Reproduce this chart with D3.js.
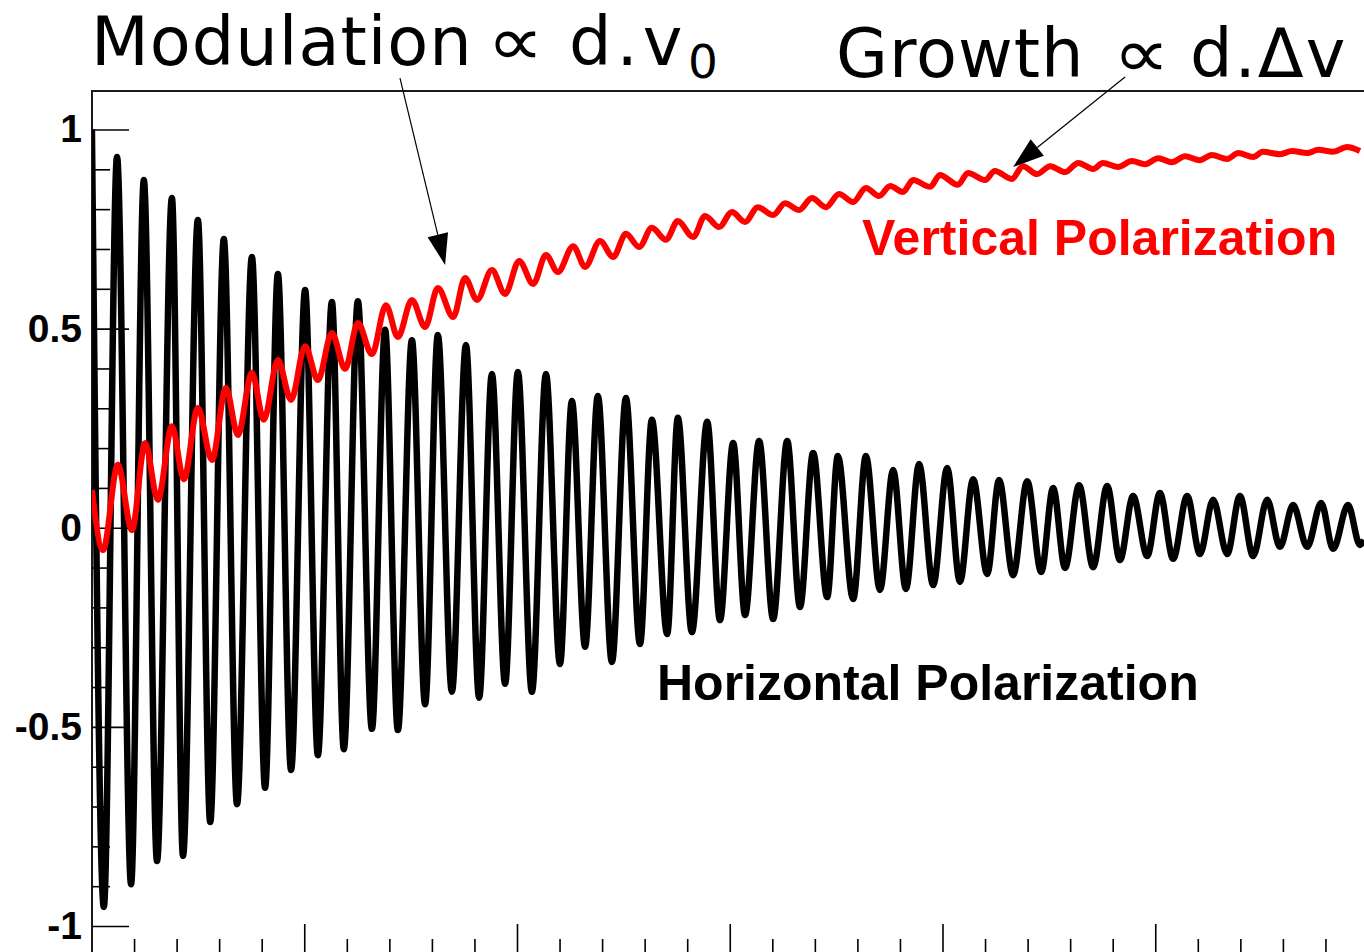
<!DOCTYPE html>
<html>
<head>
<meta charset="utf-8">
<script src="https://cdn.jsdelivr.net/npm/d3@7"></script>
<style>
  body { margin: 0; background: #fff; }
  svg { display: block; background: #fff; }
</style>
</head>
<body>
<svg width="1364" height="952"></svg>
<script>
// Horizontal polarization: start point, then alternating troughs / peaks [time, value]
var horizontal = [
  [0.01, 1.000], [0.29, -0.952], [0.60, 0.931], [0.93, -0.895], [1.23, 0.873], [1.54, -0.837],
  [1.89, 0.828], [2.15, -0.824], [2.50, 0.773], [2.79, -0.739], [3.11, 0.725], [3.42, -0.694],
  [3.77, 0.680], [4.08, -0.653], [4.38, 0.637], [4.69, -0.608], [5.02, 0.597], [5.32, -0.571],
  [5.65, 0.567], [5.93, -0.556], [6.26, 0.569], [6.59, -0.505], [6.90, 0.497], [7.20, -0.508],
  [7.53, 0.471], [7.84, -0.443], [8.14, 0.484], [8.47, -0.412], [8.80, 0.459], [9.11, -0.427],
  [9.41, 0.386], [9.72, -0.392], [10.02, 0.391], [10.35, -0.412], [10.68, 0.386], [11.01, -0.342],
  [11.29, 0.318], [11.60, -0.299], [11.90, 0.331], [12.23, -0.337], [12.56, 0.326], [12.89, -0.292],
  [13.17, 0.271], [13.53, -0.267], [13.78, 0.276], [14.11, -0.262], [14.47, 0.266], [14.77, -0.232],
  [15.08, 0.213], [15.36, -0.219], [15.69, 0.218], [16.02, -0.229], [16.35, 0.218], [16.65, -0.199],
  [16.96, 0.188], [17.29, -0.174], [17.54, 0.180], [17.90, -0.179], [18.20, 0.180], [18.53, -0.156],
  [18.84, 0.145], [19.14, -0.154], [19.45, 0.160], [19.78, -0.144], [20.11, 0.150], [20.41, -0.136],
  [20.72, 0.122], [21.05, -0.116], [21.33, 0.120], [21.66, -0.119], [21.99, 0.117], [22.32, -0.111],
  [22.60, 0.100], [22.88, -0.101], [23.21, 0.107], [23.54, -0.099], [23.87, 0.105], [24.17, -0.081],
  [24.48, 0.080], [24.81, -0.071], [25.11, 0.087], [25.42, -0.078], [25.75, 0.080], [26.05, -0.066],
  [26.36, 0.070], [26.69, -0.066], [26.99, 0.080], [27.30, -0.071], [27.63, 0.070], [27.93, -0.048],
  [28.24, 0.057], [28.57, -0.048], [28.90, 0.062], [29.18, -0.053], [29.53, 0.057], [29.81, -0.043],
  [29.91, -0.031]
];

// Vertical polarization: start point, then alternating troughs / peaks
var vertical = [
  [0.01, 0.095], [0.27, -0.056], [0.62, 0.158], [0.95, -0.006], [1.26, 0.213], [1.56, 0.070],
  [1.89, 0.255], [2.17, 0.122], [2.50, 0.301], [2.83, 0.170], [3.16, 0.351], [3.44, 0.233],
  [3.77, 0.389], [4.05, 0.271], [4.38, 0.421], [4.69, 0.321], [5.02, 0.456], [5.32, 0.371],
  [5.65, 0.489], [5.96, 0.399], [6.26, 0.514], [6.59, 0.436], [6.92, 0.559], [7.20, 0.479],
  [7.53, 0.572], [7.84, 0.504], [8.14, 0.602], [8.50, 0.529], [8.78, 0.627], [9.06, 0.572],
  [9.41, 0.647], [9.72, 0.587], [10.05, 0.670], [10.38, 0.612], [10.68, 0.685], [10.96, 0.642],
  [11.32, 0.707], [11.60, 0.655], [11.95, 0.720], [12.26, 0.680], [12.56, 0.738], [12.87, 0.705],
  [13.17, 0.753], [13.50, 0.723], [13.78, 0.770], [14.14, 0.730], [14.42, 0.783], [14.75, 0.755],
  [15.05, 0.793], [15.36, 0.768], [15.66, 0.805], [16.02, 0.785], [16.30, 0.815], [16.63, 0.798],
  [16.93, 0.828], [17.26, 0.805], [17.57, 0.838], [17.90, 0.818], [18.20, 0.853], [18.51, 0.833],
  [18.77, 0.858], [19.07, 0.843], [19.31, 0.873], [19.71, 0.856], [19.94, 0.886], [20.36, 0.861],
  [20.60, 0.891], [21.00, 0.873], [21.23, 0.896], [21.63, 0.876], [21.89, 0.908], [22.22, 0.888],
  [22.53, 0.908], [22.88, 0.893], [23.19, 0.916], [23.54, 0.901], [23.77, 0.916], [24.13, 0.906],
  [24.45, 0.921], [24.76, 0.913], [25.07, 0.928], [25.39, 0.918], [25.70, 0.933], [26.05, 0.923],
  [26.33, 0.936], [26.69, 0.926], [26.95, 0.941], [27.30, 0.931], [27.53, 0.944], [27.93, 0.938],
  [28.21, 0.946], [28.57, 0.941], [28.83, 0.949], [29.18, 0.944], [29.51, 0.956], [29.81, 0.946]
];

var yMajor = [-1, -0.5, 0, 0.5, 1];
var yLabels = ["-1", "-0.5", "0", "0.5", "1"];
var yMinor = [-0.9, -0.8, -0.7, -0.6, -0.4, -0.3, -0.2, -0.1, 0.1, 0.2, 0.3, 0.4, 0.6, 0.7, 0.8, 0.9];
var xMajor = [5, 10, 15, 20, 25, 30];
var xMinor = d3.range(1, 31).filter(function(d) { return d % 5 !== 0; });

var seriesLabels = ["Horizontal Polarization", "Vertical Polarization"];

var svg = d3.select("svg"),
	frame = {left: 92, top: 91, right: 1420, bottom: 958};

var x = d3.scaleLinear().domain([0, 30]).range([91.5, 91.5 + 30 * 42.55]);
var y = d3.scaleLinear().domain([-1, 1]).range([926, 129.5]);

// frame
svg.append("rect")
	.attr("x", frame.left)
	.attr("y", frame.top)
	.attr("width", frame.right - frame.left)
	.attr("height", frame.bottom - frame.top)
	.attr("fill", "none")
	.attr("stroke", "#1a1a1a")
	.attr("stroke-width", 2);

svg.append("clipPath").attr("id", "plot")
	.append("rect")
	.attr("x", frame.left)
	.attr("y", frame.top)
	.attr("width", frame.right - frame.left)
	.attr("height", frame.bottom - frame.top);

// y axis: major ticks with labels, then minor ticks
var gy = svg.append("g")
	.attr("transform", "translate(" + frame.left + ",0)")
	.call(d3.axisLeft(y).tickValues(yMajor).tickSize(-37).tickPadding(10)
		.tickFormat(function(d, i) { return yLabels[i]; }));
svg.append("g")
	.attr("transform", "translate(" + frame.left + ",0)")
	.call(d3.axisLeft(y).tickValues(yMinor).tickSize(-18).tickFormat(""));

// x axis along the bottom, no labels
svg.append("g")
	.attr("transform", "translate(0," + frame.bottom + ")")
	.call(d3.axisTop(x).tickValues(xMajor).tickSize(34).tickFormat(""));
svg.append("g")
	.attr("transform", "translate(0," + frame.bottom + ")")
	.call(d3.axisTop(x).tickValues(xMinor).tickSize(19).tickFormat(""));

svg.selectAll(".domain").remove();
svg.selectAll(".tick line").attr("stroke", "#000").attr("stroke-width", 1.6);
gy.selectAll(".tick text")
	.attr("fill", "#000")
	.attr("font-family", "'Liberation Sans', Arial, sans-serif")
	.attr("font-weight", "bold")
	.attr("font-size", 39);

// curves
var line = d3.line()
	.x(function(d) { return x(d[0]); })
	.y(function(d) { return y(d[1]); })
	.curve(d3.curveMonotoneX);

var plot = svg.append("g").attr("clip-path", "url(#plot)");

plot.append("path")
	.datum(horizontal)
	.attr("d", line)
	.attr("fill", "none")
	.attr("stroke", "#000")
	.attr("stroke-width", 6.5)
	.attr("stroke-linejoin", "round");

plot.append("path")
	.datum(vertical)
	.attr("d", line)
	.attr("fill", "none")
	.attr("stroke", "#ff0000")
	.attr("stroke-width", 6)
	.attr("stroke-linejoin", "round");

// series labels
svg.append("text")
	.attr("x", 862)
	.attr("y", 255)
	.attr("fill", "#ff0000")
	.attr("font-family", "'Liberation Sans', Arial, sans-serif")
	.attr("font-weight", "bold")
	.attr("font-size", 50)
	.text(seriesLabels[1]);

svg.append("text")
	.attr("x", 657)
	.attr("y", 700)
	.attr("fill", "#000")
	.attr("font-family", "'Liberation Sans', Arial, sans-serif")
	.attr("font-weight", "bold")
	.attr("font-size", 50)
	.text(seriesLabels[0]);

// annotations with arrows (each piece is its own text element)
var title = svg.append("g")
	.attr("font-family", "'DejaVu Sans', sans-serif")
	.attr("font-size", 67)
	.attr("letter-spacing", 1)
	.attr("fill", "#000");

// the proportional sign is drawn a bit wider than the surrounding letters
var pieces = [
	{text: "Modulation", x: 91, y: 65},
	{text: "\u221D", x: 487, y: 65, size: 69, stretch: 1.15},
	{text: "d.v", x: 569, y: 65, spacing: 5},
	{text: "0", x: 688, y: 78, size: 47},
	{text: "Growth", x: 836, y: 77},
	{text: "\u221D", x: 1113, y: 77, size: 69, stretch: 1.15},
	{text: "d.\u0394v", x: 1190, y: 77, spacing: 2}
];

pieces.forEach(function(p) {
	var t = title.append("text")
		.attr("transform", "translate(" + p.x + "," + p.y + ")" + (p.stretch ? " scale(" + p.stretch + ",1)" : ""))
		.text(p.text);
	if (p.size) t.attr("font-size", p.size);
	if (p.spacing) t.attr("letter-spacing", p.spacing);
});

var arrows = [
	{from: [7.25, 1.129], to: [8.31, 0.66]},
	{from: [24.29, 1.132], to: [21.66, 0.906]}
];

arrows.forEach(function(a) {
	var x1 = x(a.from[0]), y1 = y(a.from[1]),
		x2 = x(a.to[0]), y2 = y(a.to[1]),
		dx = x2 - x1, dy = y2 - y1,
		len = Math.sqrt(dx * dx + dy * dy),
		ux = dx / len, uy = dy / len,
		head = 31, half = 10.5,
		bx = x2 - ux * head, by = y2 - uy * head;
	svg.append("line")
		.attr("x1", x1).attr("y1", y1)
		.attr("x2", bx).attr("y2", by)
		.attr("stroke", "#000")
		.attr("stroke-width", 1.2);
	svg.append("path")
		.attr("d", "M" + x2 + "," + y2 +
			"L" + (bx - uy * half) + "," + (by + ux * half) +
			"L" + (bx + uy * half) + "," + (by - ux * half) + "Z")
		.attr("fill", "#000");
});
</script>
</body>
</html>
